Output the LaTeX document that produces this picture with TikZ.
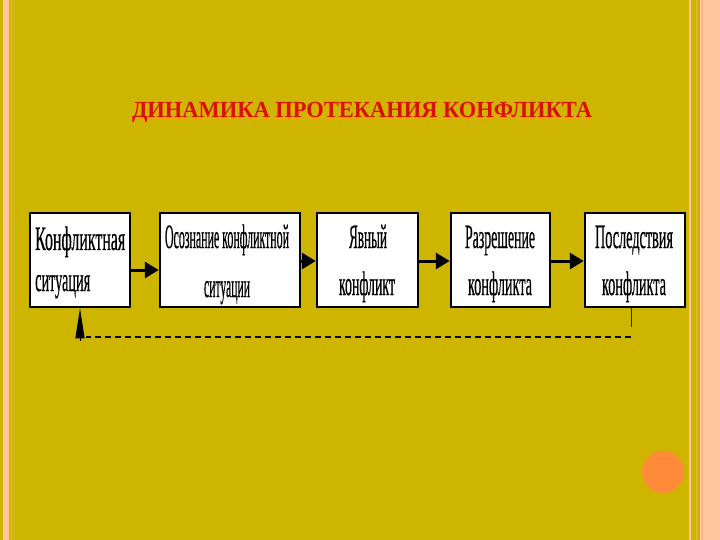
\documentclass[tikz,border=0pt]{standalone}
\usepackage{fontspec}
\setmainfont{Liberation Serif}
\newfontfamily\boxfont[FakeBold=0.8]{Liberation Serif}
\usetikzlibrary{arrows.meta}
\definecolor{gold}{RGB}{206,181,0}
\definecolor{peach}{RGB}{255,198,160}
\definecolor{circ}{RGB}{255,138,58}
\definecolor{tred}{RGB}{210,20,0}
\definecolor{tshadow}{RGB}{255,160,0}
\newcommand{\sqz}[2]{\resizebox{#1pt}{\height}{\boxfont\fontsize{34}{34}\selectfont #2}}
\newcommand{\ttl}[1]{\resizebox{460pt}{\height}{\fontsize{23}{23}\selectfont\bfseries #1}}
\tikzset{
  stepbox/.style={draw=black, line width=2.5pt, fill=white, minimum height=94pt, inner sep=0pt},
  lbl/.style={inner sep=0pt, text=black},
  arr/.style={line width=3pt, -{Triangle[length=14pt,width=16pt]}},
  fbline/.style={line width=2.2pt, dash pattern=on 6pt off 4pt},
}
\begin{document}
\begin{tikzpicture}[x=1pt,y=-1pt]
\fill[gold] (0,0) rectangle (720,540);
\useasboundingbox (0,0) rectangle (720,540);
% side stripes
\fill[peach] (3,0) rectangle (9,540);
\draw[gold!55!peach, line width=1pt] (11.5,0) -- (11.5,540);
\draw[gold!75!peach, line width=1pt] (14.5,0) -- (14.5,540);
\draw[peach, line width=1.2pt] (690,0) -- (690,540);
\draw[gold!55!peach, line width=1pt] (696,0) -- (696,540);
\fill[peach] (699.5,0) rectangle (720,540);
\draw[peach!85!red, line width=0.6pt] (702.5,0) -- (702.5,540);

% title
\node[lbl, anchor=base, text=tshadow] (titlesh) at (361,119.2) {\ttl{ДИНАМИКА ПРОТЕКАНИЯ КОНФЛИКТА}};
\node[lbl, anchor=base, text=tred] (title) at (362,118) {\ttl{ДИНАМИКА ПРОТЕКАНИЯ КОНФЛИКТА}};

% boxes
\node[stepbox, minimum width=100pt] (b1) at (80,260) {};
\node[stepbox, minimum width=140pt] (b2) at (230,260) {};
\node[stepbox, minimum width=101pt] (b3) at (367.5,260) {};
\node[stepbox, minimum width=99pt] (b4) at (500.5,260) {};
\node[stepbox, minimum width=100pt] (b5) at (635,260) {};

% texts
\node[lbl, anchor=base west] (t1a) at (35,250) {\sqz{90}{Конфликтная}};
\node[lbl, anchor=base west] (t1b) at (35,291) {\sqz{55}{ситуация}};
\node[lbl, anchor=base] (t2a) at (227,248) {\sqz{124}{Осознание конфликтной}};
\node[lbl, anchor=base] (t2b) at (227,297) {\sqz{46}{ситуации}};
\node[lbl, anchor=base] (t3a) at (368,248) {\sqz{38}{Явный}};
\node[lbl, anchor=base] (t3b) at (367,295) {\sqz{56}{конфликт}};
\node[lbl, anchor=base] (t4a) at (500,248) {\sqz{70}{Разрешение}};
\node[lbl, anchor=base] (t4b) at (500,295) {\sqz{64}{конфликта}};
\node[lbl, anchor=base] (t5a) at (634,248) {\sqz{78}{Последствия}};
\node[lbl, anchor=base] (t5b) at (634,295) {\sqz{64}{конфликта}};

% arrows
\coordinate (ya) at (0,270);
\coordinate (yb) at (0,261);
\draw[arr] (b1.east |- ya) -- (b2.west |- ya);
\draw[arr] (b2.east |- yb) -- (b3.west |- yb);
\draw[arr] (b3.east |- yb) -- (b4.west |- yb);
\draw[arr] (b4.east |- yb) -- (b5.west |- yb);

% feedback
\coordinate (dR) at (631,337);
\coordinate (dL) at (86,337);
\coordinate (aB) at (80,341);
\draw[line width=1pt, black!75!gold] (b5.south -| dR) -- (631,327);
\draw[fbline] (dR) -- (dL);
\draw[line width=1pt, -{Triangle[length=30pt,width=9pt]}] (aB) -- (b1.south -| aB);

% decorative circle
\fill[circ] (663,472) circle (21);
\end{tikzpicture}
\end{document}
